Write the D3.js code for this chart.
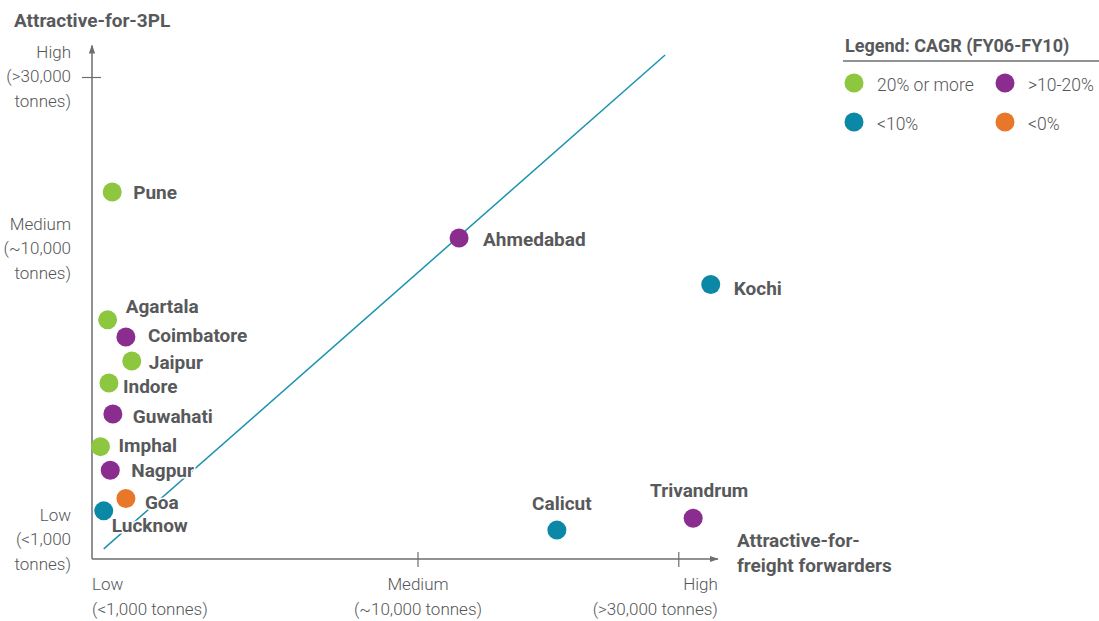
<!DOCTYPE html>
<html>
<head>
<meta charset="utf-8">
<script src="https://cdn.jsdelivr.net/npm/d3@7/dist/d3.min.js"></script>
<style>
  html, body { margin: 0; padding: 0; background: #fff; }
  svg { display: block; }
  .lbl { font-family: "Roboto", "Liberation Sans", sans-serif; font-weight: 700; fill: #58595b; }
  .tick-txt { font-family: "Roboto", "Liberation Sans", sans-serif; font-weight: 300; fill: #555658; }
</style>
</head>
<body>
<svg id="chart" width="1099" height="621"></svg>
<script>
// Airport cargo hubs scored on two attractiveness dimensions (0-100 index)
const cities = ["Pune", "Ahmedabad", "Kochi", "Agartala", "Coimbatore", "Jaipur", "Indore",
                "Guwahati", "Imphal", "Nagpur", "Goa", "Lucknow", "Calicut", "Trivandrum"];
const freightScore = [3.1, 56.3, 94.9, 2.4, 5.2, 6.1, 2.6, 3.2, 1.3, 2.8, 5.2, 1.8, 71.3, 92.2];
const threePLScore = [68.6, 60.0, 51.3, 44.7, 41.5, 37.0, 32.9, 27.1, 21.0, 16.6, 11.3, 9.0, 5.4, 7.6];
const cagrBand     = [0, 1, 2, 0, 1, 0, 0, 1, 0, 1, 3, 2, 2, 1];

const bandLabels = ["20% or more", ">10-20%", "<10%", "<0%"];
const bandColors = ["#8dc63f", "#8a2d8f", "#0b88a5", "#e8772a"];

const xTickValues = [0, 50, 90];
const xTickLabels = [["Low", "(<1,000 tonnes)"], ["Medium", "(~10,000 tonnes)"], ["High", "(>30,000 tonnes)"]];
const yTickValues = [3.4, 57.8, 90];
const yTickLabels = [["Low", "(<1,000", "tonnes)"], ["Medium", "(~10,000", "tonnes)"], ["High", "(>30,000", "tonnes)"]];

// Parity line between the two attractiveness scores
const parityX = [1.8, 87.9];
const parityY = [1.9, 94.2];

const svg = d3.select("#chart");
const axisGrey = "#6d6e71";

const x = d3.scaleLinear().domain([0, 100]).range([92, 744]);
const y = d3.scaleLinear().domain([0, 100]).range([559, 24]);
const axisMax = 96;

// arrow marker
svg.append("defs").append("marker")
  .attr("id", "arrow").attr("viewBox", "0 0 10 10").attr("refX", 9).attr("refY", 5)
  .attr("markerWidth", 9).attr("markerHeight", 9).attr("markerUnits", "userSpaceOnUse")
  .attr("orient", "auto")
  .append("path").attr("d", "M0,1.5 L10,5 L0,8.5 Z").attr("fill", axisGrey);

// axes
svg.append("line")
  .attr("x1", x(0)).attr("y1", y(0)).attr("x2", x(axisMax)).attr("y2", y(0))
  .attr("stroke", axisGrey).attr("stroke-width", 1.5).attr("marker-end", "url(#arrow)");
svg.append("line")
  .attr("x1", x(0)).attr("y1", y(0)).attr("x2", x(0)).attr("y2", y(axisMax))
  .attr("stroke", axisGrey).attr("stroke-width", 1.5).attr("marker-end", "url(#arrow)");

// x ticks (Medium, High)
svg.selectAll(".xtick").data(xTickValues.slice(1)).join("line")
  .attr("x1", d => x(d)).attr("x2", d => x(d))
  .attr("y1", y(0) - 7).attr("y2", y(0) + 8)
  .attr("stroke", axisGrey).attr("stroke-width", 1.2);
// y tick (High)
svg.append("line")
  .attr("x1", x(0) - 10).attr("x2", x(0) + 9)
  .attr("y1", y(yTickValues[2])).attr("y2", y(yTickValues[2]))
  .attr("stroke", axisGrey).attr("stroke-width", 1.2);

const xAnchor = ["start", "middle", "end"];
xTickLabels.forEach((lines, i) => {
  const px = i === 2 ? x(axisMax) : x(xTickValues[i]);
  const t = svg.append("text").attr("class", "tick-txt")
    .attr("font-size", 17).attr("text-anchor", xAnchor[i]);
  lines.forEach((s, j) => t.append("tspan").attr("x", px).attr("y", 590 + j * 25).text(s));
});

yTickLabels.forEach((lines, i) => {
  const cy = y(yTickValues[i]);
  const t = svg.append("text").attr("class", "tick-txt")
    .attr("font-size", 17).attr("text-anchor", "end");
  lines.forEach((s, j) => t.append("tspan").attr("x", 71).attr("y", cy - 20 + j * 24.5).text(s));
});

// axis titles
svg.append("text").attr("class", "lbl").attr("font-size", 19)
  .attr("x", 14).attr("y", 27).text("Attractive-for-3PL");
const xt = svg.append("text").attr("class", "lbl").attr("font-size", 19);
xt.append("tspan").attr("x", 737).attr("y", 547).text("Attractive-for-");
xt.append("tspan").attr("x", 737).attr("y", 572).text("freight forwarders");

// parity line
svg.append("line")
  .attr("x1", x(parityX[0])).attr("y1", y(parityY[0]))
  .attr("x2", x(parityX[1])).attr("y2", y(parityY[1]))
  .attr("stroke", "#1993ae").attr("stroke-width", 1.5);

// label placement around each marker: [dx, dy, anchor]
const placement = {
  Pune: [21, 7, "start"], Ahmedabad: [24, 8, "start"], Kochi: [23, 10, "start"],
  Agartala: [18, -7, "start"], Coimbatore: [22, 5, "start"], Jaipur: [17, 8, "start"],
  Indore: [14, 10, "start"], Guwahati: [20, 9, "start"], Imphal: [18, 5, "start"],
  Nagpur: [21, 7, "start"], Goa: [19, 10, "start"], Lucknow: [8, 21, "start"],
  Calicut: [5, -20, "middle"], Trivandrum: [6, -21, "middle"]
};

const pts = cities.map((c, i) => ({ c, fx: freightScore[i], fy: threePLScore[i], band: cagrBand[i] }));

svg.selectAll(".lbltext").data(pts).join("text")
  .attr("class", "lbl").attr("font-size", 19)
  .attr("x", d => x(d.fx) + placement[d.c][0])
  .attr("y", d => y(d.fy) + placement[d.c][1])
  .attr("text-anchor", d => placement[d.c][2])
  .attr("stroke", "#fff").attr("stroke-width", 3).attr("paint-order", "stroke")
  .text(d => d.c);

svg.selectAll(".dot").data(pts).join("circle")
  .attr("cx", d => x(d.fx)).attr("cy", d => y(d.fy)).attr("r", 9.5)
  .attr("fill", d => bandColors[d.band]);

// legend
const lg = svg.append("g");
lg.append("text").attr("class", "lbl").attr("font-size", 18)
  .attr("x", 845).attr("y", 52).text("Legend: CAGR (FY06-FY10)");
lg.append("line").attr("x1", 843).attr("x2", 1099).attr("y1", 61).attr("y2", 61)
  .attr("stroke", axisGrey).attr("stroke-width", 1.5);
bandLabels.forEach((s, i) => {
  const cx = i % 2 === 0 ? 854 : 1005;
  const cy = i < 2 ? 83 : 122;
  lg.append("circle").attr("cx", cx).attr("cy", cy).attr("r", 9.5).attr("fill", bandColors[i]);
  lg.append("text").attr("class", "tick-txt").attr("font-size", 17.5)
    .attr("x", cx + 23).attr("y", cy + 8).text(s);
});
</script>
</body>
</html>
